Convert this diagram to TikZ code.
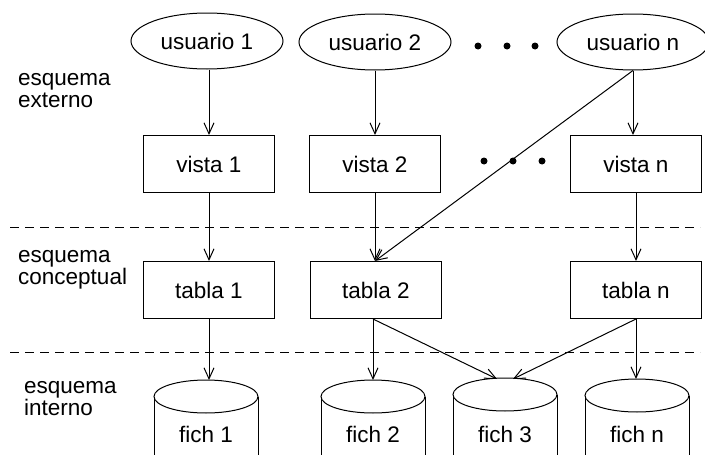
\documentclass[tikz,border=0pt]{standalone}
\usepackage{fontspec}
\setmainfont{Liberation Sans}
\usetikzlibrary{arrows.meta,shapes.geometric}

\tikzset{
  lbl/.style={font=\fontsize{22.5}{22.5}\selectfont},
  user/.style={lbl, draw, ellipse, line width=1pt, minimum width=152pt, minimum height=56pt, inner sep=0pt},
  rbox/.style={lbl, draw, rectangle, line width=1pt, minimum width=131pt, minimum height=57pt, inner sep=0pt},
  side/.style={lbl, anchor=base west, align=left, inner sep=0pt},
  conn/.style={line width=1pt, -{Straight Barb[length=11pt,width=10pt]}},
  sep/.style={line width=1pt, dash pattern=on 9pt off 6pt},
  dot/.style={circle, fill, inner sep=0pt, minimum size=7pt},
  fichtext/.style={lbl, anchor=base, inner sep=0pt}
}

% cylinder drawn from its top point: #1 = centre x, #2 = top y
\newcommand{\drawdisk}[2]{%
  \draw[line width=1pt] (#1,#2+16.5) ellipse [x radius=52, y radius=16.5];
  \draw[line width=1pt] (#1-52,#2+16.5) -- (#1-52,#2+120);
  \draw[line width=1pt] (#1+52,#2+16.5) -- (#1+52,#2+120);
}

\begin{document}
\begin{tikzpicture}[x=1pt,y=-1pt]
\useasboundingbox (0,0) rectangle (705,455);
\clip (0,0) rectangle (705,455);

% users
\node[user] (u1) at (207,41) {usuario 1};
\node[user] (u2) at (375,42) {usuario 2};
\node[user] (un) at (633,42) {usuario n};
\node[dot] (d1) at (478,46) {};
\node[dot] (d2) at (507,46) {};
\node[dot] (d3) at (535,46) {};

% external views
\node[rbox] (v1) at (209,164) {vista 1};
\node[rbox] (v2) at (375,164) {vista 2};
\node[rbox] (vn) at (636,164) {vista n};
\node[dot] (e1) at (484,161) {};
\node[dot] (e2) at (513,161) {};
\node[dot] (e3) at (542,161) {};

% conceptual tables
\node[rbox] (t1) at (209,290) {tabla 1};
\node[rbox] (t2) at (376,290) {tabla 2};
\node[rbox] (tn) at (636,290) {tabla n};

% level separators
\draw[sep] (10,227) -- (700,227);
\draw[sep] (10,352) -- (700,352);

% level labels
\node[side] (lext) at (18,107) {esquema\\[-1pt]externo};
\node[side] (lcon) at (18,284) {esquema\\[-1pt]conceptual};
\node[side] (lint) at (24,415) {esquema\\[-1pt]interno};

% stored files
\drawdisk{206}{380}
\drawdisk{373}{380}
\drawdisk{505}{378}
\drawdisk{637}{379}
\coordinate (f1top) at (209,380);
\coordinate (f2top) at (373,380);
\coordinate (f3topa) at (497,379);
\coordinate (f3topb) at (513,379);
\coordinate (fntop) at (636,379);
\node[fichtext] (f1) at (206,442) {fich 1};
\node[fichtext] (f2) at (373,442) {fich 2};
\node[fichtext] (f3) at (505,442) {fich 3};
\node[fichtext] (fn) at (637,442) {fich n};

% mappings
\draw[conn] (u1.south -| v1) -- (v1.north);
\draw[conn] (u2.south -| v2) -- (v2.north);
\draw[conn] (un.south) -- (un.south |- vn.north);
\draw[conn] (v1) -- (t1);
\draw[conn] (v2.south) -- (v2.south |- t2.north);
\draw[conn] (vn) -- (tn);
\draw[conn] (un.south) -- (v2.south |- t2.north);
\draw[conn] (t1.south) -- (f1top);
\draw[conn] (t2.south -| f2top) -- (f2top);
\draw[conn] (t2.south -| f2top) -- (f3topa);
\draw[conn] (tn.south) -- (f3topb);
\draw[conn] (tn.south) -- (fntop);
\end{tikzpicture}
\end{document}
